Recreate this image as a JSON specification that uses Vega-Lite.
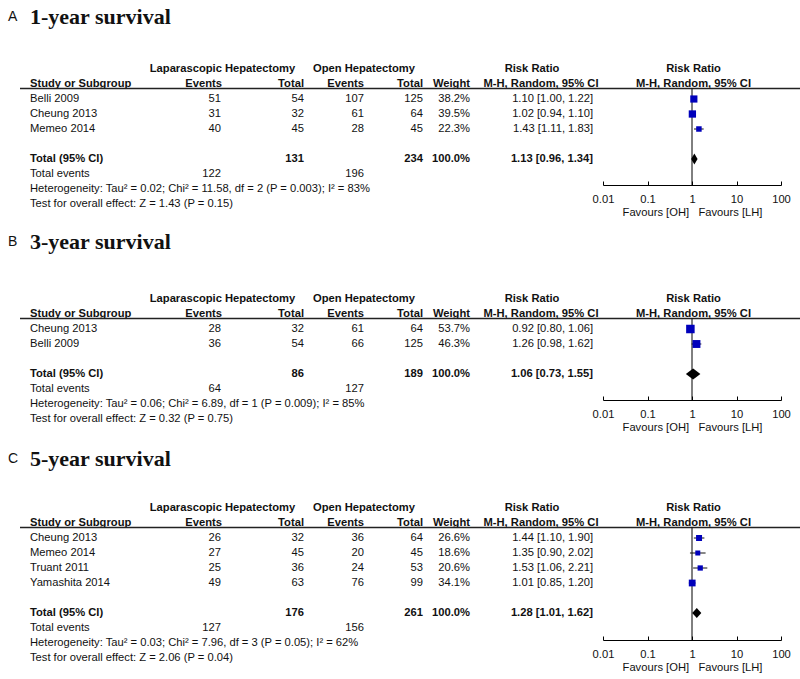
{
"$schema":"https://vega.github.io/schema/vega-lite/v6.json",
"background":"white","padding":0,"spacing":0,"bounds":"flush",
"datasets":{
"titles":[{"panel":"A","letter":"A","title":"1-year survival"},{"panel":"B","letter":"B","title":"3-year survival"},{"panel":"C","letter":"C","title":"5-year survival"}],
"head":[
{"row":-1,"col":"lapG","label":"Laparascopic Hepatectomy"},
{"row":-1,"col":"openG","label":"Open Hepatectomy"},
{"row":-1,"col":"rr","label":"Risk Ratio"},
{"row":-1,"col":"rrF","label":"Risk Ratio"},
{"row":0,"col":"study","label":"Study or Subgroup"},
{"row":0,"col":"lapE","label":"Events"},
{"row":0,"col":"lapT","label":"Total"},
{"row":0,"col":"openE","label":"Events"},
{"row":0,"col":"openT","label":"Total"},
{"row":0,"col":"weight","label":"Weight"},
{"row":0,"col":"rr2","label":"M-H, Random, 95% CI"},
{"row":0,"col":"rrF","label":"M-H, Random, 95% CI"}],
"tA":[
{"row":1,"kind":"study","study":"Belli 2009","lapE":51,"lapT":54,"openE":107,"openT":125,"weight":0.382,"rr":1.10,"lo":1.00,"hi":1.22},
{"row":2,"kind":"study","study":"Cheung 2013","lapE":31,"lapT":32,"openE":61,"openT":64,"weight":0.395,"rr":1.02,"lo":0.94,"hi":1.10},
{"row":3,"kind":"study","study":"Memeo 2014","lapE":40,"lapT":45,"openE":28,"openT":45,"weight":0.223,"rr":1.43,"lo":1.11,"hi":1.83},
{"row":5,"kind":"total","study":"Total (95% CI)","lapT":131,"openT":234,"weight":1,"rr":1.13,"lo":0.96,"hi":1.34},
{"row":6,"kind":"events","study":"Total events","lapE":122,"openE":196},
{"row":7,"kind":"note","study":"Heterogeneity: Tau² = 0.02; Chi² = 11.58, df = 2 (P = 0.003); I² = 83%"},
{"row":8,"kind":"note","study":"Test for overall effect: Z = 1.43 (P = 0.15)"}],
"tB":[
{"row":1,"kind":"study","study":"Cheung 2013","lapE":28,"lapT":32,"openE":61,"openT":64,"weight":0.537,"rr":0.92,"lo":0.80,"hi":1.06},
{"row":2,"kind":"study","study":"Belli 2009","lapE":36,"lapT":54,"openE":66,"openT":125,"weight":0.463,"rr":1.26,"lo":0.98,"hi":1.62},
{"row":4,"kind":"total","study":"Total (95% CI)","lapT":86,"openT":189,"weight":1,"rr":1.06,"lo":0.73,"hi":1.55},
{"row":5,"kind":"events","study":"Total events","lapE":64,"openE":127},
{"row":6,"kind":"note","study":"Heterogeneity: Tau² = 0.06; Chi² = 6.89, df = 1 (P = 0.009); I² = 85%"},
{"row":7,"kind":"note","study":"Test for overall effect: Z = 0.32 (P = 0.75)"}],
"tC":[
{"row":1,"kind":"study","study":"Cheung 2013","lapE":26,"lapT":32,"openE":36,"openT":64,"weight":0.266,"rr":1.44,"lo":1.10,"hi":1.90},
{"row":2,"kind":"study","study":"Memeo 2014","lapE":27,"lapT":45,"openE":20,"openT":45,"weight":0.186,"rr":1.35,"lo":0.90,"hi":2.02},
{"row":3,"kind":"study","study":"Truant 2011","lapE":25,"lapT":36,"openE":24,"openT":53,"weight":0.206,"rr":1.53,"lo":1.06,"hi":2.21},
{"row":4,"kind":"study","study":"Yamashita 2014","lapE":49,"lapT":63,"openE":76,"openT":99,"weight":0.341,"rr":1.01,"lo":0.85,"hi":1.20},
{"row":6,"kind":"total","study":"Total (95% CI)","lapT":176,"openT":261,"weight":1,"rr":1.28,"lo":1.01,"hi":1.62},
{"row":7,"kind":"events","study":"Total events","lapE":127,"openE":156},
{"row":8,"kind":"note","study":"Heterogeneity: Tau² = 0.03; Chi² = 7.96, df = 3 (P = 0.05); I² = 62%"},
{"row":9,"kind":"note","study":"Test for overall effect: Z = 2.06 (P = 0.04)"}]
},
"vconcat":[
{
"width":800,"height":225,
"data":{"name":"tA"},
"resolve":{"scale":{"x":"independent"}},
"layer":[
{"encoding":{"y":{"field":"row","type":"quantitative","scale":{"domain":[-5.6,9.4],"reverse":true,"zero":false,"nice":false},"axis":null}},
"layer":[
{"data":{"name":"head"},"transform":[{"filter":{"field":"col","equal":"lapG"}}],"mark":{"type":"text","align":"center","fontWeight":"bold"},"encoding":{"x":{"datum":222.5,"type":"quantitative","scale":{"domain":[0,800]},"axis":null},"text":{"field":"label","type":"nominal"}}},
{"data":{"name":"head"},"transform":[{"filter":{"field":"col","equal":"openG"}}],"mark":{"type":"text","align":"center","fontWeight":"bold"},"encoding":{"x":{"datum":364,"type":"quantitative","scale":{"domain":[0,800]},"axis":null},"text":{"field":"label","type":"nominal"}}},
{"data":{"name":"head"},"transform":[{"filter":{"field":"col","equal":"rr"}}],"mark":{"type":"text","align":"center","fontWeight":"bold"},"encoding":{"x":{"datum":532,"type":"quantitative","scale":{"domain":[0,800]},"axis":null},"text":{"field":"label","type":"nominal"}}},
{"data":{"name":"head"},"transform":[{"filter":{"field":"col","equal":"rr2"}}],"mark":{"type":"text","align":"center","fontWeight":"bold"},"encoding":{"x":{"datum":541,"type":"quantitative","scale":{"domain":[0,800]},"axis":null},"text":{"field":"label","type":"nominal"}}},
{"data":{"name":"head"},"transform":[{"filter":{"field":"col","equal":"rrF"}}],"mark":{"type":"text","align":"center","fontWeight":"bold"},"encoding":{"x":{"datum":693.5,"type":"quantitative","scale":{"domain":[0,800]},"axis":null},"text":{"field":"label","type":"nominal"}}},
{"data":{"name":"head"},"transform":[{"filter":{"field":"col","equal":"study"}}],"mark":{"type":"text","align":"left","fontWeight":"bold"},"encoding":{"x":{"datum":30,"type":"quantitative","scale":{"domain":[0,800]},"axis":null},"text":{"field":"label","type":"nominal"}}},
{"data":{"name":"head"},"transform":[{"filter":{"field":"col","equal":"lapE"}}],"mark":{"type":"text","align":"right","fontWeight":"bold"},"encoding":{"x":{"datum":222,"type":"quantitative","scale":{"domain":[0,800]},"axis":null},"text":{"field":"label","type":"nominal"}}},
{"data":{"name":"head"},"transform":[{"filter":{"field":"col","equal":"lapT"}}],"mark":{"type":"text","align":"right","fontWeight":"bold"},"encoding":{"x":{"datum":304,"type":"quantitative","scale":{"domain":[0,800]},"axis":null},"text":{"field":"label","type":"nominal"}}},
{"data":{"name":"head"},"transform":[{"filter":{"field":"col","equal":"openE"}}],"mark":{"type":"text","align":"right","fontWeight":"bold"},"encoding":{"x":{"datum":364,"type":"quantitative","scale":{"domain":[0,800]},"axis":null},"text":{"field":"label","type":"nominal"}}},
{"data":{"name":"head"},"transform":[{"filter":{"field":"col","equal":"openT"}}],"mark":{"type":"text","align":"right","fontWeight":"bold"},"encoding":{"x":{"datum":423,"type":"quantitative","scale":{"domain":[0,800]},"axis":null},"text":{"field":"label","type":"nominal"}}},
{"data":{"name":"head"},"transform":[{"filter":{"field":"col","equal":"weight"}}],"mark":{"type":"text","align":"right","fontWeight":"bold"},"encoding":{"x":{"datum":470,"type":"quantitative","scale":{"domain":[0,800]},"axis":null},"text":{"field":"label","type":"nominal"}}},
{"mark":{"type":"text","align":"left","fontWeight":{"expr":"datum.kind==='total'?'bold':'normal'"}},"encoding":{"x":{"datum":30,"type":"quantitative","scale":{"domain":[0,800]},"axis":null},"text":{"field":"study","type":"nominal"}}},
{"transform":[{"filter":"isValid(datum.lapE)"}],"mark":{"type":"text","align":"right"},"encoding":{"x":{"datum":221,"type":"quantitative","scale":{"domain":[0,800]},"axis":null},"text":{"field":"lapE","type":"quantitative"}}},
{"transform":[{"filter":"isValid(datum.lapT)"}],"mark":{"type":"text","align":"right","fontWeight":{"expr":"datum.kind==='total'?'bold':'normal'"}},"encoding":{"x":{"datum":304,"type":"quantitative","scale":{"domain":[0,800]},"axis":null},"text":{"field":"lapT","type":"quantitative"}}},
{"transform":[{"filter":"isValid(datum.openE)"}],"mark":{"type":"text","align":"right"},"encoding":{"x":{"datum":364,"type":"quantitative","scale":{"domain":[0,800]},"axis":null},"text":{"field":"openE","type":"quantitative"}}},
{"transform":[{"filter":"isValid(datum.openT)"}],"mark":{"type":"text","align":"right","fontWeight":{"expr":"datum.kind==='total'?'bold':'normal'"}},"encoding":{"x":{"datum":423,"type":"quantitative","scale":{"domain":[0,800]},"axis":null},"text":{"field":"openT","type":"quantitative"}}},
{"transform":[{"filter":"isValid(datum.weight)"}],"mark":{"type":"text","align":"right","fontWeight":{"expr":"datum.kind==='total'?'bold':'normal'"}},"encoding":{"x":{"datum":470,"type":"quantitative","scale":{"domain":[0,800]},"axis":null},"text":{"field":"weight","type":"quantitative","format":".1%"}}},
{"transform":[{"filter":"isValid(datum.rr)"},{"calculate":"format(datum.rr,'.2f')+' ['+format(datum.lo,'.2f')+', '+format(datum.hi,'.2f')+']'","as":"ci"}],"mark":{"type":"text","align":"right","fontWeight":{"expr":"datum.kind==='total'?'bold':'normal'"}},"encoding":{"x":{"datum":593,"type":"quantitative","scale":{"domain":[0,800]},"axis":null},"text":{"field":"ci","type":"nominal"}}}
]},
{"layer":[
{"data":{"name":"titles"},"transform":[{"filter":"datum.panel==='A'"}],"mark":{"type":"text","align":"left","baseline":"alphabetic","fontSize":14,"dy":-3},"encoding":{"x":{"datum":8,"type":"quantitative","scale":{"domain":[0,800]},"axis":null},"y":{"datum":-4.0,"type":"quantitative","scale":{"domain":[-5.6,9.4],"reverse":true,"zero":false,"nice":false},"axis":null},"text":{"field":"letter","type":"nominal"}}},
{"data":{"name":"titles"},"transform":[{"filter":"datum.panel==='A'"}],"mark":{"type":"text","align":"left","baseline":"alphabetic","font":"Liberation Serif","fontSize":22,"fontWeight":"bold"},"encoding":{"x":{"datum":30,"type":"quantitative","scale":{"domain":[0,800]},"axis":null},"y":{"datum":-4.0,"type":"quantitative","scale":{"domain":[-5.6,9.4],"reverse":true,"zero":false,"nice":false},"axis":null},"text":{"field":"title","type":"nominal"}}},
{"data":{"values":[{}]},"mark":{"type":"rule","color":"#222","strokeWidth":1.3},"encoding":{"x":{"datum":20,"type":"quantitative","scale":{"domain":[0,800]},"axis":null},"x2":{"datum":800},"y":{"datum":0.3,"type":"quantitative","scale":{"domain":[-5.6,9.4],"reverse":true,"zero":false,"nice":false},"axis":null}}}
]},
{"data":{"values":[{}]},"mark":{"type":"rule","color":"#000","strokeWidth":1},"encoding":{"x":{"datum":1,"type":"quantitative","scale":{"type":"log","domain":[0.01,100],"range":[603,781]},"axis":null},"y":{"datum":0.3,"type":"quantitative","scale":{"domain":[-5.6,9.4],"reverse":true,"zero":false,"nice":false},"axis":null},"y2":{"datum":6.733}}},
{"transform":[{"filter":"datum.kind==='study'"}],"mark":{"type":"rule","color":"#111","strokeWidth":1},"encoding":{"x":{"field":"lo","type":"quantitative","scale":{"type":"log","domain":[0.01,100],"range":[603,781]},"axis":null},"x2":{"field":"hi"},"y":{"field":"row","type":"quantitative","scale":{"domain":[-5.6,9.4],"reverse":true,"zero":false,"nice":false},"axis":null}}},
{"transform":[{"filter":"datum.kind==='study'"}],"mark":{"type":"point","shape":"square","filled":true,"color":"#0000BB","opacity":1},"encoding":{"x":{"field":"rr","type":"quantitative","scale":{"type":"log","domain":[0.01,100],"range":[603,781]},"axis":{"orient":"bottom","offset":-40,"values":[0.01,0.1,1,10,100],"format":"~g","grid":false,"domainColor":"#000","domainWidth":1,"tickColor":"#000","tickWidth":1,"tickSize":-4,"labelFont":"Liberation Sans","labelFontSize":11.2,"labelColor":"#111","labelPadding":12,"labelFlush":false,"labelOverlap":false,"title":"Favours [OH]\u00a0\u00a0\u00a0Favours [LH]","titleFont":"Liberation Sans","titleFontSize":11.2,"titleFontWeight":"normal","titleColor":"#111","titlePadding":2}},"y":{"field":"row","type":"quantitative","scale":{"domain":[-5.6,9.4],"reverse":true,"zero":false,"nice":false},"axis":null},"size":{"field":"weight","type":"quantitative","scale":{"domain":[0,1],"range":[0,135]},"legend":null}}},
{"transform":[{"filter":"datum.kind==='total'"}],"mark":{"type":"point","shape":"M-1,0L0,-1.72L1,0L0,1.72Z","filled":true,"color":"#000","opacity":1,"size":41},"encoding":{"x":{"field":"rr","type":"quantitative","scale":{"type":"log","domain":[0.01,100],"range":[603,781]},"axis":null},"y":{"field":"row","type":"quantitative","scale":{"domain":[-5.6,9.4],"reverse":true,"zero":false,"nice":false},"axis":null}}}
]
},
{
"width":800,"height":205,
"data":{"name":"tB"},
"resolve":{"scale":{"x":"independent"}},
"layer":[
{"encoding":{"y":{"field":"row","type":"quantitative","scale":{"domain":[-5.9333,7.7333],"reverse":true,"zero":false,"nice":false},"axis":null}},
"layer":[
{"data":{"name":"head"},"transform":[{"filter":{"field":"col","equal":"lapG"}}],"mark":{"type":"text","align":"center","fontWeight":"bold"},"encoding":{"x":{"datum":222.5,"type":"quantitative","scale":{"domain":[0,800]},"axis":null},"text":{"field":"label","type":"nominal"}}},
{"data":{"name":"head"},"transform":[{"filter":{"field":"col","equal":"openG"}}],"mark":{"type":"text","align":"center","fontWeight":"bold"},"encoding":{"x":{"datum":364,"type":"quantitative","scale":{"domain":[0,800]},"axis":null},"text":{"field":"label","type":"nominal"}}},
{"data":{"name":"head"},"transform":[{"filter":{"field":"col","equal":"rr"}}],"mark":{"type":"text","align":"center","fontWeight":"bold"},"encoding":{"x":{"datum":532,"type":"quantitative","scale":{"domain":[0,800]},"axis":null},"text":{"field":"label","type":"nominal"}}},
{"data":{"name":"head"},"transform":[{"filter":{"field":"col","equal":"rr2"}}],"mark":{"type":"text","align":"center","fontWeight":"bold"},"encoding":{"x":{"datum":541,"type":"quantitative","scale":{"domain":[0,800]},"axis":null},"text":{"field":"label","type":"nominal"}}},
{"data":{"name":"head"},"transform":[{"filter":{"field":"col","equal":"rrF"}}],"mark":{"type":"text","align":"center","fontWeight":"bold"},"encoding":{"x":{"datum":693.5,"type":"quantitative","scale":{"domain":[0,800]},"axis":null},"text":{"field":"label","type":"nominal"}}},
{"data":{"name":"head"},"transform":[{"filter":{"field":"col","equal":"study"}}],"mark":{"type":"text","align":"left","fontWeight":"bold"},"encoding":{"x":{"datum":30,"type":"quantitative","scale":{"domain":[0,800]},"axis":null},"text":{"field":"label","type":"nominal"}}},
{"data":{"name":"head"},"transform":[{"filter":{"field":"col","equal":"lapE"}}],"mark":{"type":"text","align":"right","fontWeight":"bold"},"encoding":{"x":{"datum":222,"type":"quantitative","scale":{"domain":[0,800]},"axis":null},"text":{"field":"label","type":"nominal"}}},
{"data":{"name":"head"},"transform":[{"filter":{"field":"col","equal":"lapT"}}],"mark":{"type":"text","align":"right","fontWeight":"bold"},"encoding":{"x":{"datum":304,"type":"quantitative","scale":{"domain":[0,800]},"axis":null},"text":{"field":"label","type":"nominal"}}},
{"data":{"name":"head"},"transform":[{"filter":{"field":"col","equal":"openE"}}],"mark":{"type":"text","align":"right","fontWeight":"bold"},"encoding":{"x":{"datum":364,"type":"quantitative","scale":{"domain":[0,800]},"axis":null},"text":{"field":"label","type":"nominal"}}},
{"data":{"name":"head"},"transform":[{"filter":{"field":"col","equal":"openT"}}],"mark":{"type":"text","align":"right","fontWeight":"bold"},"encoding":{"x":{"datum":423,"type":"quantitative","scale":{"domain":[0,800]},"axis":null},"text":{"field":"label","type":"nominal"}}},
{"data":{"name":"head"},"transform":[{"filter":{"field":"col","equal":"weight"}}],"mark":{"type":"text","align":"right","fontWeight":"bold"},"encoding":{"x":{"datum":470,"type":"quantitative","scale":{"domain":[0,800]},"axis":null},"text":{"field":"label","type":"nominal"}}},
{"mark":{"type":"text","align":"left","fontWeight":{"expr":"datum.kind==='total'?'bold':'normal'"}},"encoding":{"x":{"datum":30,"type":"quantitative","scale":{"domain":[0,800]},"axis":null},"text":{"field":"study","type":"nominal"}}},
{"transform":[{"filter":"isValid(datum.lapE)"}],"mark":{"type":"text","align":"right"},"encoding":{"x":{"datum":221,"type":"quantitative","scale":{"domain":[0,800]},"axis":null},"text":{"field":"lapE","type":"quantitative"}}},
{"transform":[{"filter":"isValid(datum.lapT)"}],"mark":{"type":"text","align":"right","fontWeight":{"expr":"datum.kind==='total'?'bold':'normal'"}},"encoding":{"x":{"datum":304,"type":"quantitative","scale":{"domain":[0,800]},"axis":null},"text":{"field":"lapT","type":"quantitative"}}},
{"transform":[{"filter":"isValid(datum.openE)"}],"mark":{"type":"text","align":"right"},"encoding":{"x":{"datum":364,"type":"quantitative","scale":{"domain":[0,800]},"axis":null},"text":{"field":"openE","type":"quantitative"}}},
{"transform":[{"filter":"isValid(datum.openT)"}],"mark":{"type":"text","align":"right","fontWeight":{"expr":"datum.kind==='total'?'bold':'normal'"}},"encoding":{"x":{"datum":423,"type":"quantitative","scale":{"domain":[0,800]},"axis":null},"text":{"field":"openT","type":"quantitative"}}},
{"transform":[{"filter":"isValid(datum.weight)"}],"mark":{"type":"text","align":"right","fontWeight":{"expr":"datum.kind==='total'?'bold':'normal'"}},"encoding":{"x":{"datum":470,"type":"quantitative","scale":{"domain":[0,800]},"axis":null},"text":{"field":"weight","type":"quantitative","format":".1%"}}},
{"transform":[{"filter":"isValid(datum.rr)"},{"calculate":"format(datum.rr,'.2f')+' ['+format(datum.lo,'.2f')+', '+format(datum.hi,'.2f')+']'","as":"ci"}],"mark":{"type":"text","align":"right","fontWeight":{"expr":"datum.kind==='total'?'bold':'normal'"}},"encoding":{"x":{"datum":593,"type":"quantitative","scale":{"domain":[0,800]},"axis":null},"text":{"field":"ci","type":"nominal"}}}
]},
{"layer":[
{"data":{"name":"titles"},"transform":[{"filter":"datum.panel==='B'"}],"mark":{"type":"text","align":"left","baseline":"alphabetic","fontSize":14,"dy":-3},"encoding":{"x":{"datum":8,"type":"quantitative","scale":{"domain":[0,800]},"axis":null},"y":{"datum":-4.333,"type":"quantitative","scale":{"domain":[-5.9333,7.7333],"reverse":true,"zero":false,"nice":false},"axis":null},"text":{"field":"letter","type":"nominal"}}},
{"data":{"name":"titles"},"transform":[{"filter":"datum.panel==='B'"}],"mark":{"type":"text","align":"left","baseline":"alphabetic","font":"Liberation Serif","fontSize":22,"fontWeight":"bold"},"encoding":{"x":{"datum":30,"type":"quantitative","scale":{"domain":[0,800]},"axis":null},"y":{"datum":-4.333,"type":"quantitative","scale":{"domain":[-5.9333,7.7333],"reverse":true,"zero":false,"nice":false},"axis":null},"text":{"field":"title","type":"nominal"}}},
{"data":{"values":[{}]},"mark":{"type":"rule","color":"#222","strokeWidth":1.3},"encoding":{"x":{"datum":20,"type":"quantitative","scale":{"domain":[0,800]},"axis":null},"x2":{"datum":800},"y":{"datum":0.3,"type":"quantitative","scale":{"domain":[-5.9333,7.7333],"reverse":true,"zero":false,"nice":false},"axis":null}}}
]},
{"data":{"values":[{}]},"mark":{"type":"rule","color":"#000","strokeWidth":1},"encoding":{"x":{"datum":1,"type":"quantitative","scale":{"type":"log","domain":[0.01,100],"range":[603,781]},"axis":null},"y":{"datum":0.3,"type":"quantitative","scale":{"domain":[-5.9333,7.7333],"reverse":true,"zero":false,"nice":false},"axis":null},"y2":{"datum":5.733}}},
{"transform":[{"filter":"datum.kind==='study'"}],"mark":{"type":"rule","color":"#111","strokeWidth":1},"encoding":{"x":{"field":"lo","type":"quantitative","scale":{"type":"log","domain":[0.01,100],"range":[603,781]},"axis":null},"x2":{"field":"hi"},"y":{"field":"row","type":"quantitative","scale":{"domain":[-5.9333,7.7333],"reverse":true,"zero":false,"nice":false},"axis":null}}},
{"transform":[{"filter":"datum.kind==='study'"}],"mark":{"type":"point","shape":"square","filled":true,"color":"#0000BB","opacity":1},"encoding":{"x":{"field":"rr","type":"quantitative","scale":{"type":"log","domain":[0.01,100],"range":[603,781]},"axis":{"orient":"bottom","offset":-30,"values":[0.01,0.1,1,10,100],"format":"~g","grid":false,"domainColor":"#000","domainWidth":1,"tickColor":"#000","tickWidth":1,"tickSize":-4,"labelFont":"Liberation Sans","labelFontSize":11.2,"labelColor":"#111","labelPadding":12,"labelFlush":false,"labelOverlap":false,"title":"Favours [OH]\u00a0\u00a0\u00a0Favours [LH]","titleFont":"Liberation Sans","titleFontSize":11.2,"titleFontWeight":"normal","titleColor":"#111","titlePadding":2}},"y":{"field":"row","type":"quantitative","scale":{"domain":[-5.9333,7.7333],"reverse":true,"zero":false,"nice":false},"axis":null},"size":{"field":"weight","type":"quantitative","scale":{"domain":[0,1],"range":[0,135]},"legend":null}}},
{"transform":[{"filter":"datum.kind==='total'"}],"mark":{"type":"point","shape":"M-1,0L0,-0.76L1,0L0,0.76Z","filled":true,"color":"#000","opacity":1,"size":210},"encoding":{"x":{"field":"rr","type":"quantitative","scale":{"type":"log","domain":[0.01,100],"range":[603,781]},"axis":null},"y":{"field":"row","type":"quantitative","scale":{"domain":[-5.9333,7.7333],"reverse":true,"zero":false,"nice":false},"axis":null}}}
]
},
{
"width":800,"height":249,
"data":{"name":"tC"},
"resolve":{"scale":{"x":"independent"}},
"layer":[
{"encoding":{"y":{"field":"row","type":"quantitative","scale":{"domain":[-6.2,10.4],"reverse":true,"zero":false,"nice":false},"axis":null}},
"layer":[
{"data":{"name":"head"},"transform":[{"filter":{"field":"col","equal":"lapG"}}],"mark":{"type":"text","align":"center","fontWeight":"bold"},"encoding":{"x":{"datum":222.5,"type":"quantitative","scale":{"domain":[0,800]},"axis":null},"text":{"field":"label","type":"nominal"}}},
{"data":{"name":"head"},"transform":[{"filter":{"field":"col","equal":"openG"}}],"mark":{"type":"text","align":"center","fontWeight":"bold"},"encoding":{"x":{"datum":364,"type":"quantitative","scale":{"domain":[0,800]},"axis":null},"text":{"field":"label","type":"nominal"}}},
{"data":{"name":"head"},"transform":[{"filter":{"field":"col","equal":"rr"}}],"mark":{"type":"text","align":"center","fontWeight":"bold"},"encoding":{"x":{"datum":532,"type":"quantitative","scale":{"domain":[0,800]},"axis":null},"text":{"field":"label","type":"nominal"}}},
{"data":{"name":"head"},"transform":[{"filter":{"field":"col","equal":"rr2"}}],"mark":{"type":"text","align":"center","fontWeight":"bold"},"encoding":{"x":{"datum":541,"type":"quantitative","scale":{"domain":[0,800]},"axis":null},"text":{"field":"label","type":"nominal"}}},
{"data":{"name":"head"},"transform":[{"filter":{"field":"col","equal":"rrF"}}],"mark":{"type":"text","align":"center","fontWeight":"bold"},"encoding":{"x":{"datum":693.5,"type":"quantitative","scale":{"domain":[0,800]},"axis":null},"text":{"field":"label","type":"nominal"}}},
{"data":{"name":"head"},"transform":[{"filter":{"field":"col","equal":"study"}}],"mark":{"type":"text","align":"left","fontWeight":"bold"},"encoding":{"x":{"datum":30,"type":"quantitative","scale":{"domain":[0,800]},"axis":null},"text":{"field":"label","type":"nominal"}}},
{"data":{"name":"head"},"transform":[{"filter":{"field":"col","equal":"lapE"}}],"mark":{"type":"text","align":"right","fontWeight":"bold"},"encoding":{"x":{"datum":222,"type":"quantitative","scale":{"domain":[0,800]},"axis":null},"text":{"field":"label","type":"nominal"}}},
{"data":{"name":"head"},"transform":[{"filter":{"field":"col","equal":"lapT"}}],"mark":{"type":"text","align":"right","fontWeight":"bold"},"encoding":{"x":{"datum":304,"type":"quantitative","scale":{"domain":[0,800]},"axis":null},"text":{"field":"label","type":"nominal"}}},
{"data":{"name":"head"},"transform":[{"filter":{"field":"col","equal":"openE"}}],"mark":{"type":"text","align":"right","fontWeight":"bold"},"encoding":{"x":{"datum":364,"type":"quantitative","scale":{"domain":[0,800]},"axis":null},"text":{"field":"label","type":"nominal"}}},
{"data":{"name":"head"},"transform":[{"filter":{"field":"col","equal":"openT"}}],"mark":{"type":"text","align":"right","fontWeight":"bold"},"encoding":{"x":{"datum":423,"type":"quantitative","scale":{"domain":[0,800]},"axis":null},"text":{"field":"label","type":"nominal"}}},
{"data":{"name":"head"},"transform":[{"filter":{"field":"col","equal":"weight"}}],"mark":{"type":"text","align":"right","fontWeight":"bold"},"encoding":{"x":{"datum":470,"type":"quantitative","scale":{"domain":[0,800]},"axis":null},"text":{"field":"label","type":"nominal"}}},
{"mark":{"type":"text","align":"left","fontWeight":{"expr":"datum.kind==='total'?'bold':'normal'"}},"encoding":{"x":{"datum":30,"type":"quantitative","scale":{"domain":[0,800]},"axis":null},"text":{"field":"study","type":"nominal"}}},
{"transform":[{"filter":"isValid(datum.lapE)"}],"mark":{"type":"text","align":"right"},"encoding":{"x":{"datum":221,"type":"quantitative","scale":{"domain":[0,800]},"axis":null},"text":{"field":"lapE","type":"quantitative"}}},
{"transform":[{"filter":"isValid(datum.lapT)"}],"mark":{"type":"text","align":"right","fontWeight":{"expr":"datum.kind==='total'?'bold':'normal'"}},"encoding":{"x":{"datum":304,"type":"quantitative","scale":{"domain":[0,800]},"axis":null},"text":{"field":"lapT","type":"quantitative"}}},
{"transform":[{"filter":"isValid(datum.openE)"}],"mark":{"type":"text","align":"right"},"encoding":{"x":{"datum":364,"type":"quantitative","scale":{"domain":[0,800]},"axis":null},"text":{"field":"openE","type":"quantitative"}}},
{"transform":[{"filter":"isValid(datum.openT)"}],"mark":{"type":"text","align":"right","fontWeight":{"expr":"datum.kind==='total'?'bold':'normal'"}},"encoding":{"x":{"datum":423,"type":"quantitative","scale":{"domain":[0,800]},"axis":null},"text":{"field":"openT","type":"quantitative"}}},
{"transform":[{"filter":"isValid(datum.weight)"}],"mark":{"type":"text","align":"right","fontWeight":{"expr":"datum.kind==='total'?'bold':'normal'"}},"encoding":{"x":{"datum":470,"type":"quantitative","scale":{"domain":[0,800]},"axis":null},"text":{"field":"weight","type":"quantitative","format":".1%"}}},
{"transform":[{"filter":"isValid(datum.rr)"},{"calculate":"format(datum.rr,'.2f')+' ['+format(datum.lo,'.2f')+', '+format(datum.hi,'.2f')+']'","as":"ci"}],"mark":{"type":"text","align":"right","fontWeight":{"expr":"datum.kind==='total'?'bold':'normal'"}},"encoding":{"x":{"datum":593,"type":"quantitative","scale":{"domain":[0,800]},"axis":null},"text":{"field":"ci","type":"nominal"}}}
]},
{"layer":[
{"data":{"name":"titles"},"transform":[{"filter":"datum.panel==='C'"}],"mark":{"type":"text","align":"left","baseline":"alphabetic","fontSize":14,"dy":-3},"encoding":{"x":{"datum":8,"type":"quantitative","scale":{"domain":[0,800]},"axis":null},"y":{"datum":-3.833,"type":"quantitative","scale":{"domain":[-6.2,10.4],"reverse":true,"zero":false,"nice":false},"axis":null},"text":{"field":"letter","type":"nominal"}}},
{"data":{"name":"titles"},"transform":[{"filter":"datum.panel==='C'"}],"mark":{"type":"text","align":"left","baseline":"alphabetic","font":"Liberation Serif","fontSize":22,"fontWeight":"bold"},"encoding":{"x":{"datum":30,"type":"quantitative","scale":{"domain":[0,800]},"axis":null},"y":{"datum":-3.833,"type":"quantitative","scale":{"domain":[-6.2,10.4],"reverse":true,"zero":false,"nice":false},"axis":null},"text":{"field":"title","type":"nominal"}}},
{"data":{"values":[{}]},"mark":{"type":"rule","color":"#222","strokeWidth":1.3},"encoding":{"x":{"datum":20,"type":"quantitative","scale":{"domain":[0,800]},"axis":null},"x2":{"datum":800},"y":{"datum":0.3,"type":"quantitative","scale":{"domain":[-6.2,10.4],"reverse":true,"zero":false,"nice":false},"axis":null}}}
]},
{"data":{"values":[{}]},"mark":{"type":"rule","color":"#000","strokeWidth":1},"encoding":{"x":{"datum":1,"type":"quantitative","scale":{"type":"log","domain":[0.01,100],"range":[603,781]},"axis":null},"y":{"datum":0.3,"type":"quantitative","scale":{"domain":[-6.2,10.4],"reverse":true,"zero":false,"nice":false},"axis":null},"y2":{"datum":7.8}}},
{"transform":[{"filter":"datum.kind==='study'"}],"mark":{"type":"rule","color":"#111","strokeWidth":1},"encoding":{"x":{"field":"lo","type":"quantitative","scale":{"type":"log","domain":[0.01,100],"range":[603,781]},"axis":null},"x2":{"field":"hi"},"y":{"field":"row","type":"quantitative","scale":{"domain":[-6.2,10.4],"reverse":true,"zero":false,"nice":false},"axis":null}}},
{"transform":[{"filter":"datum.kind==='study'"}],"mark":{"type":"point","shape":"square","filled":true,"color":"#0000BB","opacity":1},"encoding":{"x":{"field":"rr","type":"quantitative","scale":{"type":"log","domain":[0.01,100],"range":[603,781]},"axis":{"orient":"bottom","offset":-39,"values":[0.01,0.1,1,10,100],"format":"~g","grid":false,"domainColor":"#000","domainWidth":1,"tickColor":"#000","tickWidth":1,"tickSize":-4,"labelFont":"Liberation Sans","labelFontSize":11.2,"labelColor":"#111","labelPadding":12,"labelFlush":false,"labelOverlap":false,"title":"Favours [OH]\u00a0\u00a0\u00a0Favours [LH]","titleFont":"Liberation Sans","titleFontSize":11.2,"titleFontWeight":"normal","titleColor":"#111","titlePadding":2}},"y":{"field":"row","type":"quantitative","scale":{"domain":[-6.2,10.4],"reverse":true,"zero":false,"nice":false},"axis":null},"size":{"field":"weight","type":"quantitative","scale":{"domain":[0,1],"range":[0,135]},"legend":null}}},
{"transform":[{"filter":"datum.kind==='total'"}],"mark":{"type":"point","shape":"M-1,0L0,-1.1L1,0L0,1.1Z","filled":true,"color":"#000","opacity":1,"size":83},"encoding":{"x":{"field":"rr","type":"quantitative","scale":{"type":"log","domain":[0.01,100],"range":[603,781]},"axis":null},"y":{"field":"row","type":"quantitative","scale":{"domain":[-6.2,10.4],"reverse":true,"zero":false,"nice":false},"axis":null}}}
]
}
],
"config":{"view":{"stroke":null},"text":{"font":"Liberation Sans","fontSize":11.2,"color":"#111","baseline":"middle"}}
}
